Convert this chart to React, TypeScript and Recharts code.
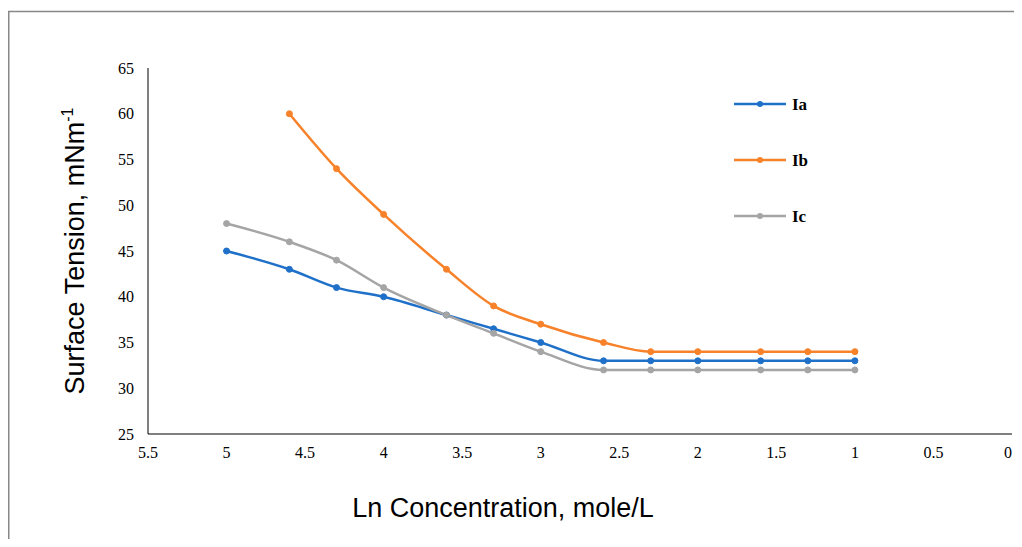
import React from "react";
import { LineChart, Line, XAxis, YAxis } from "recharts";

const xValues = [5, 4.6, 4.3, 4, 3.6, 3.3, 3, 2.6, 2.3, 2, 1.6, 1.3, 1];
const iaValues = [45, 43, 41, 40, 38, 36.5, 35, 33, 33, 33, 33, 33, 33];
const ibValues = [null, 60, 54, 49, 43, 39, 37, 35, 34, 34, 34, 34, 34];
const icValues = [48, 46, 44, 41, 38, 36, 34, 32, 32, 32, 32, 32, 32];
const xTicks = [0, 0.5, 1, 1.5, 2, 2.5, 3, 3.5, 4, 4.5, 5, 5.5];
const yTicks = [25, 30, 35, 40, 45, 50, 55, 60, 65];

const seriesInfo = [
  { key: "ia", name: "Ia", color: "#1f70c8" },
  { key: "ib", name: "Ib", color: "#f7822a" },
  { key: "ic", name: "Ic", color: "#a5a5a5" },
];

const data = xValues.map((x, i) => ({
  x,
  ia: iaValues[i],
  ib: ibValues[i],
  ic: icValues[i],
}));

const serif = "'Liberation Serif', 'Times New Roman', serif";
const tickStyle = { fontFamily: serif, fontSize: 16, fill: "#000" };

const XTick = (props: any) => {
  const { x, y, payload } = props;
  const isEdge = payload.value === 0;
  return (
    <text
      x={isEdge ? x : x}
      y={y + 5}
      dy="0.71em"
      textAnchor={isEdge ? "end" : "middle"}
      fontFamily={serif}
      fontSize={16}
      fill="#000"
    >
      {String(payload.value)}
    </text>
  );
};

export default function App() {
  return (
    <div style={{ position: "relative", width: 1006, height: 531, background: "#fff" }}>
      <div style={{ position: "absolute", left: 0, top: 0 }}>
        <LineChart width={1006} height={531} data={data} margin={{ top: 60, right: 2, bottom: 75, left: 80 }}>
          <XAxis
            dataKey="x"
            type="number"
            domain={[0, 5.5]}
            ticks={xTicks}
            reversed
            allowDataOverflow
            tickLine={false}
            tick={<XTick />}
            height={30}
            stroke="#000"
            interval={0}
          />
          <YAxis
            type="number"
            domain={[25, 65]}
            ticks={yTicks}
            tickLine={false}
            tick={tickStyle}
            tickMargin={8}
            width={60}
            stroke="#000"
            interval={0}
          />
          {seriesInfo.map((s) => (
            <Line
              key={s.key}
              dataKey={s.key}
              name={s.name}
              type="monotone"
              stroke={s.color}
              strokeWidth={2.5}
              dot={{ r: 3, fill: s.color, stroke: s.color, strokeWidth: 1 }}
              activeDot={false}
              isAnimationActive={false}
            />
          ))}
          <text
            x={495}
            y={509}
            textAnchor="middle"
            fontFamily="'Liberation Sans', Arial, sans-serif"
            fontSize={27}
            fill="#000"
          >
            Ln Concentration, mole/L
          </text>
          <text
            transform="translate(76, 243) rotate(-90)"
            textAnchor="middle"
            fontFamily="'Liberation Sans', Arial, sans-serif"
            fontSize={27}
            fill="#000"
          >
            Surface Tension, mNm
            <tspan fontSize={16} dy={-11}>-1</tspan>
          </text>
        </LineChart>
      </div>
      <svg
        width={1006}
        height={531}
        style={{ position: "absolute", left: 0, top: 0, pointerEvents: "none" }}
      >
        <line x1={0} x2={1006} y1={3.5} y2={3.5} stroke="#888" strokeWidth={1.5} />
        <line x1={0.75} x2={0.75} y1={3} y2={531} stroke="#888" strokeWidth={1.5} />
        {seriesInfo.map((s, i) => {
          const y = 96 + i * 56;
          return (
            <g key={s.key}>
              <line x1={726} x2={778} y1={y} y2={y} stroke={s.color} strokeWidth={2.5} />
              <circle cx={752} cy={y} r={3} fill={s.color} />
              <text
                x={784}
                y={y + 6}
                fontFamily={serif}
                fontWeight="bold"
                fontSize={17}
                fill="#000"
              >
                {s.name}
              </text>
            </g>
          );
        })}
      </svg>
    </div>
  );
}
